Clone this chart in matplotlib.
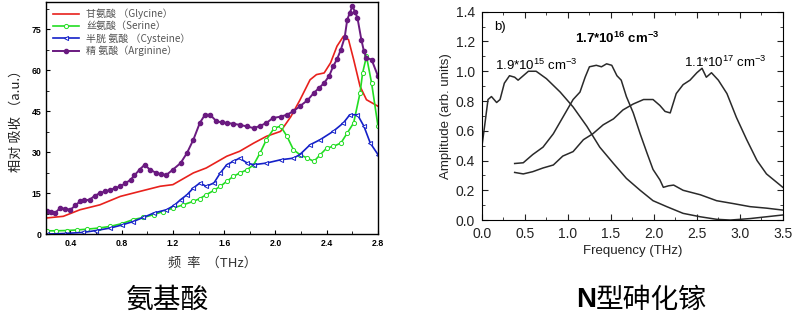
import matplotlib
matplotlib.use('Agg')
import matplotlib.pyplot as plt
from matplotlib.ticker import MultipleLocator

CJK = ['Noto Sans CJK SC', 'DejaVu Sans']
plt.rcParams['font.family'] = ['Liberation Sans', 'Noto Sans CJK SC', 'DejaVu Sans']
plt.rcParams['mathtext.fontset'] = 'custom'
plt.rcParams['mathtext.rm'] = 'Liberation Sans'
plt.rcParams['mathtext.bf'] = 'Liberation Sans:bold'

# ---- left panel: amino acids ----
gly_x = [0.215, 0.345, 0.475, 0.63, 0.79, 0.94, 1.10, 1.20, 1.36, 1.46, 1.62, 1.72, 1.83, 1.93, 2.04,
         2.12, 2.19, 2.27, 2.32, 2.38, 2.43, 2.48, 2.53, 2.57, 2.61, 2.66, 2.71, 2.80]
gly_y = [5.9, 6.5, 8.9, 10.7, 13.8, 15.6, 17.5, 18.1, 22.4, 24.2, 28.5, 30.3, 33.3, 35.8, 37.6,
         43.0, 49.0, 56.5, 58.4, 59.0, 62.7, 68.8, 72.4, 71.2, 63.9, 54.1, 49.2, 46.8]

ser_x = [0.215, 0.29, 0.37, 0.45, 0.53, 0.62, 0.71, 0.80, 0.89, 0.97, 1.05, 1.12, 1.20, 1.28, 1.36, 1.41,
         1.46, 1.52, 1.57, 1.62, 1.67, 1.72, 1.78, 1.83, 1.88, 1.93, 1.99, 2.04, 2.09, 2.14, 2.19,
         2.25, 2.30, 2.35, 2.40, 2.45, 2.51, 2.56, 2.61, 2.66, 2.68, 2.71, 2.75, 2.80]
ser_y = [1.2, 1.2, 1.3, 1.5, 1.8, 2.2, 2.8, 3.8, 5.3, 6.1, 7.1, 8.2, 9.5, 10.7, 12.0, 13.0,
         14.4, 16.0, 17.5, 19.3, 21.1, 22.3, 23.6, 25.4, 29.7, 34.6, 38.8, 39.5, 35.8, 30.9, 29.1,
         27.8, 26.6, 29.1, 31.5, 32.1, 33.3, 37.0, 40.7, 51.7, 59.0, 65.1, 55.3, 39.5]

cys_x = [0.215, 0.35, 0.50, 0.60, 0.71, 0.80, 0.89, 0.97, 1.05, 1.15, 1.21, 1.26, 1.31, 1.36, 1.41, 1.46,
         1.52, 1.57, 1.62, 1.67, 1.72, 1.78, 1.83, 1.93, 2.04, 2.14, 2.19, 2.27, 2.35, 2.45,
         2.53, 2.58, 2.64, 2.69, 2.74, 2.80]
cys_y = [0.0, 0.2, 0.6, 1.3, 2.2, 3.3, 4.6, 6.1, 7.7, 8.9, 10.5, 12.6, 14.4, 16.9, 18.7, 17.5,
         18.7, 22.4, 25.4, 26.6, 27.8, 26.0, 25.4, 26.0, 27.2, 27.8, 29.1, 32.7, 34.6, 37.6,
         40.7, 43.7, 43.7, 39.5, 33.3, 29.1]

arg_x = [0.215, 0.25, 0.28, 0.32, 0.36, 0.40, 0.44, 0.475, 0.51, 0.55, 0.59, 0.63, 0.67, 0.71, 0.75,
         0.79, 0.83, 0.87, 0.90, 0.94, 0.98, 1.02, 1.07, 1.11, 1.15, 1.20, 1.26, 1.31, 1.36, 1.41,
         1.45, 1.49, 1.54, 1.58, 1.62, 1.67, 1.72, 1.78, 1.83, 1.88, 1.93, 1.98, 2.04, 2.09, 2.14,
         2.19, 2.25, 2.30, 2.34, 2.38, 2.42, 2.45, 2.48, 2.51, 2.54, 2.56, 2.58, 2.60, 2.62, 2.64,
         2.67, 2.69, 2.71, 2.75, 2.80]
arg_y = [8.3, 8.0, 7.7, 9.5, 9.3, 8.9, 10.5, 12.0, 12.3, 12.6, 14.0, 15.0, 15.6, 16.2, 16.8,
         17.5, 18.6, 19.9, 21.5, 23.6, 25.4, 23.6, 22.4, 21.9, 21.7, 23.6, 26.0, 29.7, 34.6, 40.7,
         43.7, 43.7, 41.3, 40.9, 40.7, 40.4, 40.0, 39.4, 38.8, 39.6, 40.7, 42.5, 43.0, 43.7, 45.0,
         46.8, 49.0, 51.7, 53.5, 55.3, 58.0, 61.4, 64.0, 67.5, 72.0, 78.5, 81.0, 83.4, 81.5, 79.1,
         71.2, 67.0, 64.5, 63.9, 57.8]

amino_labels = ['甘氨酸 （Glycine）', '丝氨酸（Serine）', '半胱 氨酸 （Cysteine）', '精 氨酸（Arginine）']

# ---- right panel: n-type GaAs ----
ga_x = [0.0, 0.03, 0.07, 0.11, 0.17, 0.21, 0.26, 0.32, 0.38, 0.42, 0.48, 0.54, 0.63, 0.75, 0.91,
        1.06, 1.22, 1.37, 1.53, 1.68, 1.84, 1.99, 2.15, 2.34, 2.54, 2.73, 2.89, 3.12, 3.31, 3.50]
ga_y = [0.50, 0.63, 0.81, 0.83, 0.79, 0.81, 0.92, 0.97, 0.96, 0.94, 0.97, 1.00, 1.00, 0.95, 0.86,
        0.76, 0.63, 0.49, 0.38, 0.28, 0.20, 0.13, 0.09, 0.045, 0.022, 0.005, 0.0, 0.01, 0.022, 0.034]

gb_x = [0.38, 0.48, 0.59, 0.71, 0.83, 0.94, 1.06, 1.14, 1.20, 1.25, 1.33, 1.39, 1.45, 1.51, 1.57,
        1.62, 1.68, 1.76, 1.84, 1.92, 1.99, 2.07, 2.11, 2.17, 2.23, 2.34, 2.54, 2.73, 2.93, 3.12,
        3.31, 3.50]
gb_y = [0.38, 0.385, 0.44, 0.49, 0.58, 0.69, 0.81, 0.86, 0.96, 1.03, 1.04, 1.03, 1.05, 1.04, 0.97,
        0.94, 0.83, 0.72, 0.58, 0.45, 0.34, 0.27, 0.22, 0.23, 0.235, 0.20, 0.17, 0.13, 0.11, 0.09,
        0.08, 0.067]

gc_x = [0.38, 0.48, 0.59, 0.71, 0.83, 0.94, 1.06, 1.18, 1.29, 1.41, 1.53, 1.64, 1.76, 1.88, 1.99,
        2.07, 2.13, 2.19, 2.26, 2.34, 2.42, 2.50, 2.56, 2.61, 2.67, 2.75, 2.85, 2.96, 3.08, 3.20,
        3.31, 3.50]
gc_y = [0.32, 0.31, 0.325, 0.35, 0.37, 0.43, 0.46, 0.54, 0.58, 0.64, 0.68, 0.74, 0.78, 0.81, 0.81,
        0.77, 0.73, 0.72, 0.85, 0.91, 0.94, 0.99, 1.02, 0.96, 0.99, 0.94, 0.85, 0.69, 0.54, 0.40,
        0.31, 0.22]

dop_labels = ['1.9*10$^{15}$ cm$^{-3}$', '1.7*10$^{\\mathbf{16}}$ cm$^{\\mathbf{-3}}$',
              '1.1*10$^{17}$ cm$^{-3}$']

fig = plt.figure(figsize=(8.0, 3.26), dpi=100)

ax1 = fig.add_axes([0.0575, 0.282, 0.415, 0.712])
ax1.plot(gly_x, gly_y, color='#e8211c', lw=1.2, label=amino_labels[0])
ax1.plot(ser_x, ser_y, color='#22dd22', lw=1.2, marker='o', ms=3.0, mfc='white', mew=0.7,
         label=amino_labels[1])
ax1.plot(cys_x, cys_y, color='#1420c8', lw=1.2, marker='<', ms=3.0, mfc='white', mew=0.7,
         label=amino_labels[2])
ax1.plot(arg_x, arg_y, color='#6a1a80', lw=1.4, marker='o', ms=3.0, label=amino_labels[3])
ax1.set_xlim(0.21, 2.8)
ax1.set_ylim(0, 85)
ax1.xaxis.set_minor_locator(MultipleLocator(0.2))
ax1.yaxis.set_major_locator(MultipleLocator(15))
ax1.yaxis.set_minor_locator(MultipleLocator(7.5))
ax1.set_xticks([0.4, 0.8, 1.2, 1.6, 2.0, 2.4, 2.8])
ax1.set_xticklabels(['0.4', '0.8', '1.2', '1.6', '2.0', '2.4', '2.8'])
ax1.tick_params(which='both', direction='in', labelsize=6.3)
ax1.tick_params(which='major', length=3)
ax1.tick_params(which='minor', length=2)
for lab in ax1.get_xticklabels() + ax1.get_yticklabels():
    lab.set_fontweight('bold')
for sp in ax1.spines.values():
    sp.set_linewidth(1.0)
ax1.set_xlabel('频  率  （THz）', fontsize=9.5, family=CJK, color='#333333', labelpad=6)
ax1.set_ylabel('相对 吸收 （a.u.）', fontsize=9.5, family=CJK, color='#222222', labelpad=6)
leg = ax1.legend(loc='upper left', frameon=False, handlelength=2.6,
                 borderaxespad=0.25, borderpad=0.4, labelspacing=0.2,
                 prop={'family': CJK, 'size': 7.2})
for t in leg.get_texts():
    t.set_color('#555555')

ax2 = fig.add_axes([0.6025, 0.325, 0.376, 0.639])
for xs, ys in [(ga_x, ga_y), (gb_x, gb_y), (gc_x, gc_y)]:
    ax2.plot(xs, ys, color='#2a2a2a', lw=1.1)
ax2.set_xlim(0, 3.5)
ax2.set_ylim(0, 1.4)
ax2.xaxis.set_major_locator(MultipleLocator(0.5))
ax2.xaxis.set_minor_locator(MultipleLocator(0.25))
ax2.yaxis.set_major_locator(MultipleLocator(0.2))
ax2.yaxis.set_minor_locator(MultipleLocator(0.1))
ax2.tick_params(which='both', direction='in', top=True, right=True, labelsize=10,
                colors='#222222', pad=5)
ax2.tick_params(which='major', length=4)
ax2.tick_params(which='minor', length=2.5)
ax2.set_xlabel('Frequency (THz)', fontsize=9.5, color='#222222', labelpad=3)
ax2.set_ylabel('Amplitude (arb. units)', fontsize=9.5, color='#222222', labelpad=3)
ax2.text(0.14, 1.3, 'b)', fontsize=9.5, va='center', ha='left')
ax2.text(0.63, 1.04, dop_labels[0], fontsize=9.5, ha='center', va='center')
ax2.text(1.57, 1.22, dop_labels[1], fontsize=9.5, ha='center', va='center', fontweight='bold')
ax2.text(2.83, 1.06, dop_labels[2], fontsize=9.5, ha='center', va='center')

fig.text(0.21, 0.08, '氨基酸', fontsize=20, family=CJK, ha='center', va='center')
fig.text(0.745, 0.08, 'N', fontsize=20, fontweight='bold', ha='right', va='center')
fig.text(0.745, 0.08, '型砷化镓', fontsize=20, family=CJK, ha='left', va='center')

fig.savefig('out.png', dpi=100)
